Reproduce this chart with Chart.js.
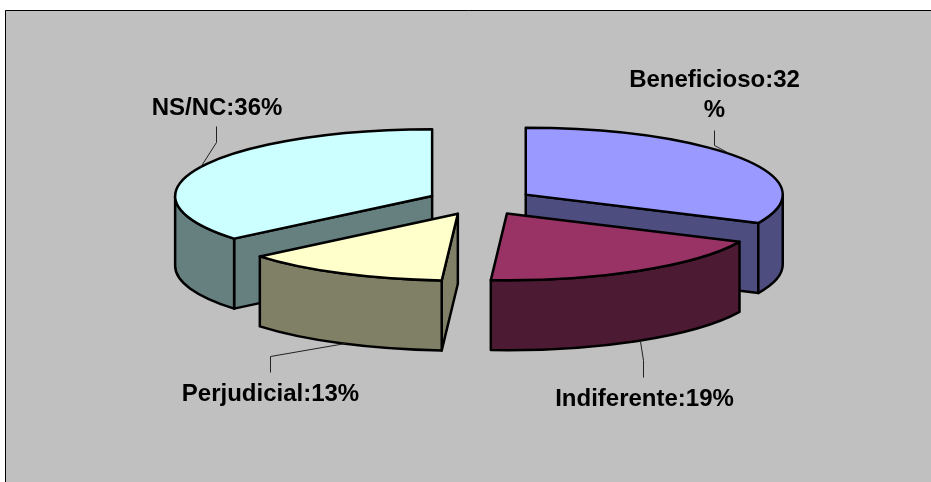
<!DOCTYPE html>
<html>
<head>
<meta charset="utf-8">
<style>html,body{margin:0;padding:0;background:#fff}canvas{display:block}</style>
<script src="https://cdn.jsdelivr.net/npm/chart.js@4"></script>
</head>
<body>
<canvas id="c" width="931" height="482"></canvas>
<script>
const categories = ['Beneficioso', 'Indiferente', 'Perjudicial', 'NS/NC'];
const values = [32, 19, 13, 36];
const topColors = ['#9999FF', '#993366', '#FFFFCC', '#CCFFFF'];
const sideColors = ['#4D4D80', '#4D1A33', '#808066', '#668080'];
const explode = [53, 51, 51, 54];

const TILT = 0.26, DEPTH = 70, RADIUS = 257;
const labelLayout = [
  {lines: v => [categories[0] + ':' + v, '%'], x: 714.5, y: 87, leader: [[714, 130], [714, 145], [727, 152]]},
  {lines: v => [categories[1] + ':' + v + '%'], x: 644.5, y: 406, leader: [[640, 341], [643, 360], [643, 377]]},
  {lines: v => [categories[2] + ':' + v + '%'], x: 270.5, y: 401, leader: [[345, 343], [270, 356], [270, 372]]},
  {lines: v => [categories[3] + ':' + v + '%'], x: 217, y: 115, leader: [[200, 167], [216, 142], [216, 126]]}
];

const TAU = Math.PI * 2;

const pie3d = {
  id: 'pie3d',
  beforeDraw(chart) {
    const {ctx, width, height} = chart;
    ctx.save();
    ctx.fillStyle = '#fff';
    ctx.fillRect(0, 0, width, height);
    ctx.fillStyle = '#C0C0C0';
    ctx.fillRect(5, 10, width - 5, height - 10);
    ctx.strokeStyle = '#000';
    ctx.lineWidth = 1;
    ctx.beginPath();
    ctx.moveTo(5.5, height);
    ctx.lineTo(5.5, 10.5);
    ctx.lineTo(width, 10.5);
    ctx.stroke();
    ctx.restore();
  },
  beforeDatasetDraw(chart, args) {
    const {ctx} = chart;
    const arcs = chart.getDatasetMeta(args.index).data;
    const items = arcs.map((arc, i) => {
      const mid = (arc.startAngle + arc.endAngle) / 2;
      return {arc, i, mid,
        ax: arc.x + Math.cos(mid) * explode[i],
        ay: arc.y + Math.sin(mid) * explode[i] * TILT};
    }).sort((a, b) => a.ay - b.ay || a.i - b.i);

    ctx.save();
    ctx.lineWidth = 2.5;
    ctx.lineJoin = 'round';
    ctx.strokeStyle = '#000';
    items.forEach(({arc, i, ax, ay}) => {
      const s = arc.startAngle, e = arc.endAngle, R = arc.outerRadius;
      const px = a => ax + R * Math.cos(a);
      const py = a => ay + R * TILT * Math.sin(a);
      ctx.fillStyle = sideColors[i];

      // flat cut walls that face the viewer
      const wall = a => {
        ctx.beginPath();
        ctx.moveTo(ax, ay);
        ctx.lineTo(px(a), py(a));
        ctx.lineTo(px(a), py(a) + DEPTH);
        ctx.lineTo(ax, ay + DEPTH);
        ctx.closePath();
        ctx.fill();
        ctx.stroke();
      };
      if (Math.cos(s) < 0) wall(s);
      if (Math.cos(e) > 0) wall(e);

      // curved outer wall: the part of the rim in the front half
      [0, TAU].forEach(shift => {
        const a0 = Math.max(s, shift), a1 = Math.min(e, shift + Math.PI);
        if (a1 <= a0) return;
        ctx.beginPath();
        ctx.ellipse(ax, ay, R, R * TILT, 0, a0, a1);
        ctx.ellipse(ax, ay + DEPTH, R, R * TILT, 0, a1, a0, true);
        ctx.closePath();
        ctx.fill();
        ctx.stroke();
      });

      // top face, filled by the library's arc element under a tilt
      ctx.save();
      ctx.translate(ax, ay);
      ctx.scale(1, TILT);
      ctx.translate(-arc.x, -arc.y);
      arc.draw(ctx);
      ctx.restore();
      ctx.beginPath();
      ctx.moveTo(ax, ay);
      ctx.ellipse(ax, ay, R, R * TILT, 0, s, e);
      ctx.closePath();
      ctx.stroke();
    });
    ctx.restore();
    return false;
  },
  afterDatasetsDraw(chart) {
    const {ctx} = chart;
    ctx.save();
    ctx.strokeStyle = '#222';
    ctx.lineWidth = 1;
    ctx.fillStyle = '#000';
    ctx.font = 'bold 24px "Liberation Sans", Arial, sans-serif';
    ctx.textAlign = 'center';
    ctx.textBaseline = 'alphabetic';
    labelLayout.forEach((l, i) => {
      ctx.beginPath();
      l.leader.forEach((p, j) => j ? ctx.lineTo(p[0] + .5, p[1] + .5) : ctx.moveTo(p[0] + .5, p[1] + .5));
      ctx.stroke();
      l.lines(values[i]).forEach((t, j) => ctx.fillText(t, l.x, l.y + j * 30));
    });
    ctx.restore();
  }
};

new Chart(document.getElementById('c'), {
  type: 'pie',
  data: {
    labels: categories,
    datasets: [{data: values, backgroundColor: topColors, borderWidth: 0, radius: RADIUS}]
  },
  options: {
    responsive: false,
    animation: false,
    layout: {padding: {left: 31, bottom: 78}},
    plugins: {legend: {display: false}, tooltip: {enabled: false}}
  },
  plugins: [pie3d]
});
</script>
</body>
</html>
